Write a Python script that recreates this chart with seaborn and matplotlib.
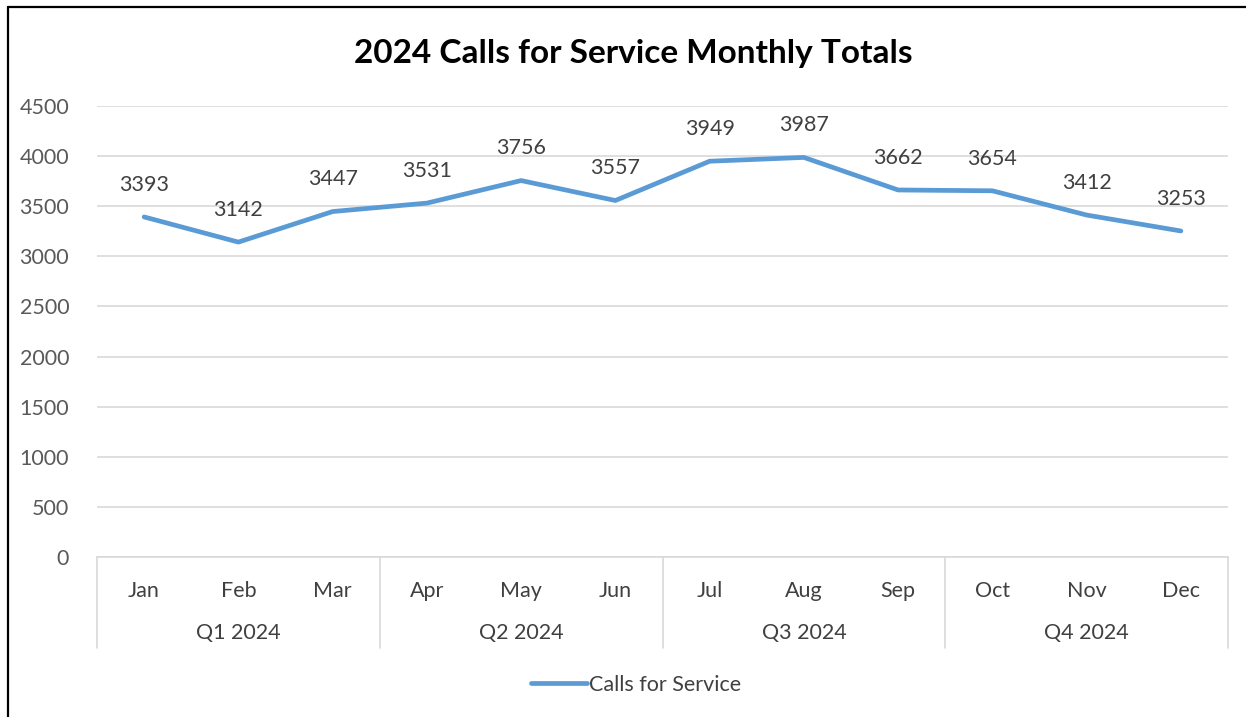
import matplotlib
matplotlib.use('Agg')
import matplotlib.pyplot as plt
from matplotlib.lines import Line2D
import matplotlib.transforms as mtransforms
import seaborn as sns
import pandas as pd

# --- data ---
months = ['Jan', 'Feb', 'Mar', 'Apr', 'May', 'Jun', 'Jul', 'Aug', 'Sep', 'Oct', 'Nov', 'Dec']
quarters = ['Q1 2024', 'Q2 2024', 'Q3 2024', 'Q4 2024']
calls = [3393, 3142, 3447, 3531, 3756, 3557, 3949, 3987, 3662, 3654, 3412, 3253]
yticks = [0, 500, 1000, 1500, 2000, 2500, 3000, 3500, 4000, 4500]

df = pd.DataFrame({'pos': range(len(months)), 'month': months, 'calls': calls})

sns.set_theme(style='white')
plt.rcParams['font.family'] = ['Lato', 'DejaVu Sans']

W, H = 1246, 717
fig = plt.figure(figsize=(W / 100, H / 100), dpi=100)
ax = fig.add_axes([97 / W, 1 - 557 / H, (1228 - 97) / W, (557 - 106) / H])

line_color = '#5B9BD5'
fs = 15.5
sns.lineplot(data=df, x='pos', y='calls', ax=ax, color=line_color, linewidth=3.4,
             solid_capstyle='round', solid_joinstyle='round', label='Calls for Service',
             legend=False)

ax.set_xlim(-0.5, len(months) - 0.5)
ax.set_ylim(0, 4500)
ax.set_yticks(yticks)
ax.set_yticklabels([str(v) for v in yticks], fontsize=fs, color='#595959')
ax.grid(axis='y', color='#D9D9D9', linewidth=1.2)
ax.set_axisbelow(True)
for s in ['top', 'right', 'left']:
    ax.spines[s].set_visible(False)
ax.spines['bottom'].set_color('#D9D9D9')
ax.spines['bottom'].set_linewidth(1.2)
ax.tick_params(axis='y', length=0, pad=20)
ax.tick_params(axis='x', length=0, pad=17)
ax.set_xticks(df['pos'])
ax.set_xticklabels(months, fontsize=fs, color='#404040')
ax.set_xlabel('')
ax.set_ylabel('')

# data labels
for x, y in zip(df['pos'], df['calls']):
    ax.annotate(str(y), (x, y), xytext=(0, 16), textcoords='offset points',
                ha='center', va='bottom', fontsize=fs, color='#404040')

# quarter group labels and separators
trans = mtransforms.blended_transform_factory(ax.transData, ax.transAxes)
sep_bottom = -(648 - 557) / (557 - 106)
for i in range(len(quarters) + 1):
    xs = i * 3 - 0.5
    ax.add_line(Line2D([xs, xs], [0, sep_bottom], transform=trans, color='#D9D9D9',
                       linewidth=1.2, clip_on=False))
for i, q in enumerate(quarters):
    ax.text(i * 3 + 1, -(633 - 557) / (557 - 106), q, transform=trans, ha='center',
            va='center', fontsize=fs, color='#404040')

# title
fig.text(633 / W, 1 - 53 / H, '2024 Calls for Service Monthly Totals', ha='center',
         va='center', fontsize=24, fontweight='bold', color='black')

# legend
leg = fig.legend(handles=[Line2D([], [], color=line_color, linewidth=3.4,
                                 solid_capstyle='round')],
                 labels=['Calls for Service'], loc='center', bbox_to_anchor=(636 / W, 1 - 685 / H),
                 frameon=False, fontsize=fs, handlelength=2.6, handletextpad=0.1)
for t in leg.get_texts():
    t.set_color('#404040')

# chart border (left and top visible)
fig.add_artist(Line2D([8 / W, 8 / W], [0, 1 - 7 / H], transform=fig.transFigure,
                      color='black', linewidth=1.6))
fig.add_artist(Line2D([8 / W, 1], [1 - 7 / H, 1 - 7 / H], transform=fig.transFigure,
                      color='black', linewidth=1.6))

fig.savefig('out.png', dpi=100, facecolor='white')
